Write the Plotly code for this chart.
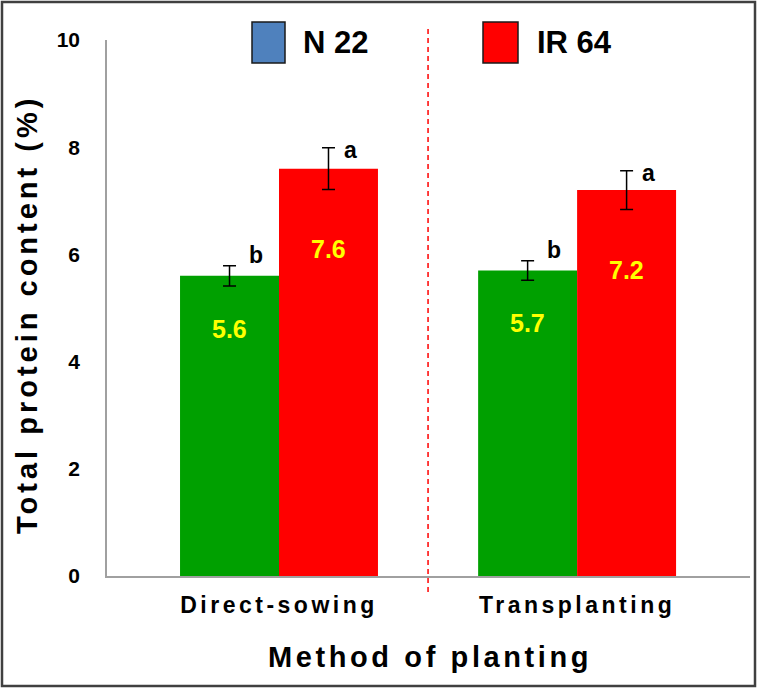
import plotly.graph_objects as go

categories = ["Direct-sowing", "Transplanting"]
n22_values = [5.6, 5.7]
n22_errors = [0.19, 0.18]
ir64_values = [7.6, 7.2]
ir64_errors = [0.39, 0.36]
n22_letters = ["b", "b"]
ir64_letters = ["a", "a"]
y_ticks = [0, 2, 4, 6, 8, 10]

GREEN = "#00A000"
RED = "#FF0000"
FONT = "Liberation Sans, Arial, sans-serif"

W, H = 760, 695
L, R, T, B = 107, 10, 40, 119
PW, PH = W - L - R, H - T - B


def px(x):
    return (x - L) / PW


def py(y):
    return (H - B - y) / PH


def spaced(text, sp):
    return f'<span style="letter-spacing:{sp}px">{text}</span>'


fig = go.Figure()
fig.add_trace(go.Bar(
    x=categories, y=n22_values, name="N 22", marker=dict(color=GREEN, line=dict(width=0)),
    error_y=dict(type="data", array=n22_errors, color="black", thickness=1.5, width=6.5),
    showlegend=False,
))
fig.add_trace(go.Bar(
    x=categories, y=ir64_values, name="IR 64", marker=dict(color=RED, line=dict(width=0)),
    error_y=dict(type="data", array=ir64_errors, color="black", thickness=1.5, width=6.5),
    showlegend=False,
))

annotations = []
for i, c in enumerate(categories):
    # value labels inside bars
    annotations.append(dict(x=c, y=n22_values[i], xref="x", yref="y", text=f"<b>{n22_values[i]}</b>",
                            showarrow=False, xshift=-49.5, yshift=-53, yanchor="middle",
                            font=dict(family=FONT, size=25, color="#FFFF00")))
    annotations.append(dict(x=c, y=ir64_values[i], xref="x", yref="y", text=f"<b>{ir64_values[i]}</b>",
                            showarrow=False, xshift=49.5, yshift=-80, yanchor="middle",
                            font=dict(family=FONT, size=25, color="#FFFF00")))
    # significance letters
    annotations.append(dict(x=c, y=n22_values[i] + n22_errors[i], xref="x", yref="y",
                            text=f"<b>{n22_letters[i]}</b>", showarrow=False,
                            xshift=-49.5 + 26, yshift=11, yanchor="middle",
                            font=dict(family=FONT, size=23, color="black")))
    annotations.append(dict(x=c, y=ir64_values[i] + ir64_errors[i], xref="x", yref="y",
                            text=f"<b>{ir64_letters[i]}</b>", showarrow=False,
                            xshift=49.5 + 22, yshift=-2, yanchor="middle",
                            font=dict(family=FONT, size=23, color="black")))

# Legend texts
annotations.append(dict(x=px(301), y=py(43), xref="paper", yref="paper", text="<b>N 22</b>",
                        showarrow=False, xanchor="left", yanchor="middle",
                        font=dict(family=FONT, size=31, color="black")))
annotations.append(dict(x=px(535), y=py(43), xref="paper", yref="paper", text="<b>IR 64</b>",
                        showarrow=False, xanchor="left", yanchor="middle",
                        font=dict(family=FONT, size=31, color="black")))
# Axis titles
annotations.append(dict(x=px(430), y=py(657), xref="paper", yref="paper",
                        text="<b>" + spaced("Method of planting", 3.6) + "</b>",
                        showarrow=False, xanchor="center", yanchor="middle",
                        font=dict(family=FONT, size=29, color="black")))
annotations.append(dict(x=px(27), y=py(315), xref="paper", yref="paper",
                        text="<b>" + spaced("Total protein content (%)", 4.0) + "</b>",
                        showarrow=False, xanchor="center", yanchor="middle", textangle=-90,
                        font=dict(family=FONT, size=29, color="black")))

shapes = [
    # outer border
    dict(type="rect", xref="paper", yref="paper", x0=px(2), x1=px(755), y0=py(686), y1=py(2),
         line=dict(color="#404040", width=2.5), fillcolor="rgba(0,0,0,0)", layer="above"),
    # dashed separator
    dict(type="line", xref="x", yref="paper", x0=0.5, x1=0.5, y0=py(592), y1=py(28),
         line=dict(color=RED, width=1.5, dash="5px,4px")),
    # legend squares
    dict(type="rect", xref="paper", yref="paper", x0=px(252), x1=px(285), y0=py(63), y1=py(22),
         fillcolor="#4F81BD", line=dict(color="#1a1a1a", width=1.5)),
    dict(type="rect", xref="paper", yref="paper", x0=px(483), x1=px(518), y0=py(63), y1=py(22),
         fillcolor=RED, line=dict(color="#1a1a1a", width=1.5)),
]

fig.update_layout(
    width=W, height=H,
    margin=dict(l=L, r=R, t=T, b=B, autoexpand=False),
    barmode="group", bargap=0.336, bargroupgap=0,
    paper_bgcolor="white", plot_bgcolor="white",
    annotations=annotations, shapes=shapes,
    showlegend=False,
)
fig.update_xaxes(
    type="category", categoryorder="array", categoryarray=categories,
    range=[-0.577, 1.58],
    tickmode="array", tickvals=categories,
    ticktext=["<b>" + spaced(c, 3.5) + "</b>" for c in categories],
    tickfont=dict(family=FONT, size=23, color="black"),
    showline=True, linecolor="#A0A0A0", linewidth=1.5,
    ticks="", showgrid=False, zeroline=False, ticklabelstandoff=8,
)
fig.update_yaxes(
    range=[0, 10], tickmode="array", tickvals=y_ticks,
    ticktext=[f"<b>{v}</b>" for v in y_ticks],
    tickfont=dict(family=FONT, size=21, color="black"),
    showline=True, linecolor="#A0A0A0", linewidth=1.5,
    ticks="", showgrid=False, zeroline=False, ticklabelstandoff=21,
)

fig.write_html("out.html", config={"displayModeBar": False},
               post_script="document.body.style.margin='0';")
